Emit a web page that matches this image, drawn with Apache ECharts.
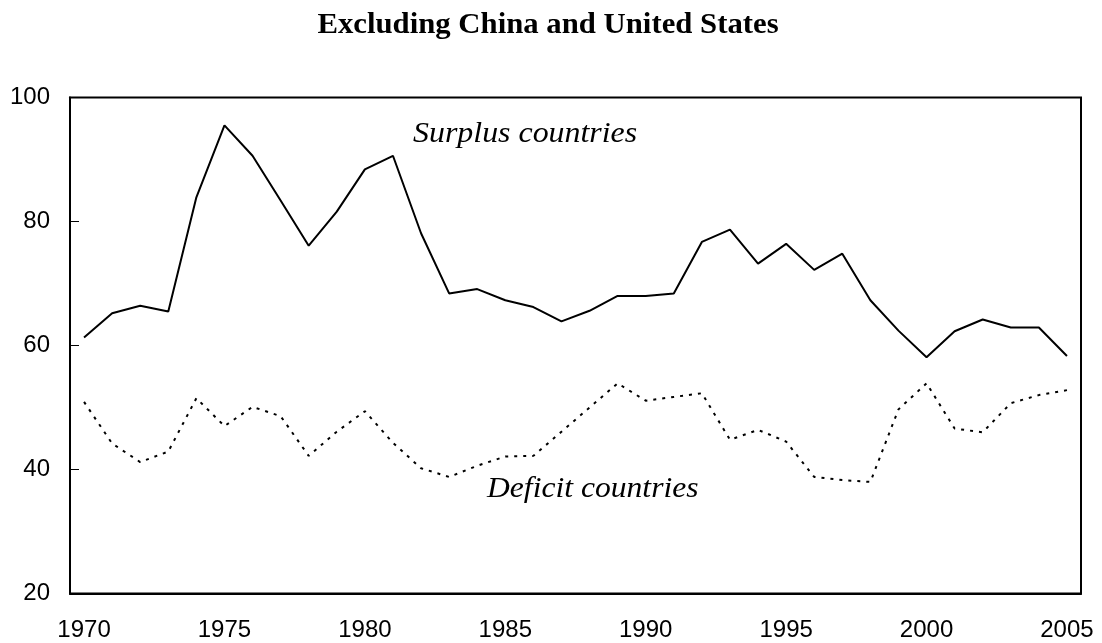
<!DOCTYPE html>
<html>
<head>
<meta charset="utf-8">
<style>
  html, body { margin: 0; padding: 0; background: #fff; }
  #chart { width: 1102px; height: 643px; }
</style>
<script src="https://cdn.jsdelivr.net/npm/echarts@6/dist/echarts.min.js"></script>
</head>
<body>
<div id="chart"></div>
<script>
// years on the category axis
var years = []
for (var y = 1970; y <= 2005; y++) years.push(String(y))

// values
var surplus = [61.3, 65.2, 66.4, 65.5, 83.9, 95.5, 90.6, 83.4, 76.1, 81.6,
  88.4, 90.6, 78.1, 68.4, 69.1, 67.3, 66.2, 63.9, 65.6, 68.0,
  68.0, 68.4, 76.7, 78.7, 73.2, 76.4, 72.2, 74.8, 67.3, 62.4,
  58.1, 62.3, 64.2, 62.9, 62.9, 58.3]
var deficit = [50.9, 44.2, 41.2, 42.9, 51.5, 47.0, 50.1, 48.6, 42.2, 46.1,
  49.4, 44.3, 40.2, 38.8, 40.6, 42.1, 42.2, 46.1, 50.0, 53.9,
  51.1, 51.7, 52.3, 44.8, 46.4, 44.5, 38.8, 38.3, 38.0, 49.7,
  53.9, 46.6, 46.0, 50.7, 52.0, 52.8]
var yTicks = [20, 40, 60, 80, 100]

var serif = '"Liberation Serif", "Times New Roman", serif'

var chart = echarts.init(document.getElementById('chart'))
chart.setOption({
  animation: false,
  backgroundColor: '#fff',
  grid: {
    left: 70,
    right: 21,
    top: 97.5,
    bottom: 49.5,
    show: true,
    borderColor: '#000',
    borderWidth: 2
  },
  xAxis: {
    type: 'category',
    data: years,
    boundaryGap: true,
    axisLine: { lineStyle: { color: '#000', width: 2 } },
    axisTick: {
      inside: true,
      length: 8,
      interval: 4,
      lineStyle: { color: '#000', width: 1 }
    },
    axisLabel: {
      interval: 4,
      margin: 25,
      color: '#000',
      fontSize: 24,
      fontFamily: 'Liberation Sans, Arial, sans-serif'
    },
    splitLine: { show: false }
  },
  yAxis: {
    type: 'value',
    min: yTicks[0],
    max: yTicks[yTicks.length - 1],
    interval: 20,
    axisLine: { show: true, lineStyle: { color: '#000', width: 2 } },
    axisTick: {
      show: true,
      inside: true,
      length: 9,
      lineStyle: { color: '#000', width: 1 }
    },
    axisLabel: {
      margin: 20,
      color: '#000',
      fontSize: 24,
      fontFamily: 'Liberation Sans, Arial, sans-serif'
    },
    splitLine: { show: false }
  },
  series: [
    {
      name: 'Surplus countries',
      type: 'line',
      data: surplus,
      symbol: 'none',
      lineStyle: { color: '#000', width: 2 }
    },
    {
      name: 'Deficit countries',
      type: 'line',
      data: deficit,
      symbol: 'none',
      lineStyle: { color: '#000', width: 2, type: [3, 6] }
    }
  ],
  // title and line labels run a little wider than plain Times
  graphic: [
    {
      type: 'text',
      x: 548,
      y: 26,
      scaleX: 1.06,
      style: {
        text: 'Excluding China and United States',
        fill: '#000',
        align: 'center',
        verticalAlign: 'middle',
        font: 'bold 29px ' + serif
      }
    },
    {
      type: 'text',
      x: 413,
      y: 134,
      scaleX: 1.1,
      style: {
        text: 'Surplus countries',
        fill: '#000',
        align: 'left',
        verticalAlign: 'middle',
        font: 'italic 29px ' + serif
      }
    },
    {
      type: 'text',
      x: 487,
      y: 489,
      scaleX: 1.09,
      style: {
        text: 'Deficit countries',
        fill: '#000',
        align: 'left',
        verticalAlign: 'middle',
        font: 'italic 29px ' + serif
      }
    }
  ]
})
</script>
</body>
</html>
